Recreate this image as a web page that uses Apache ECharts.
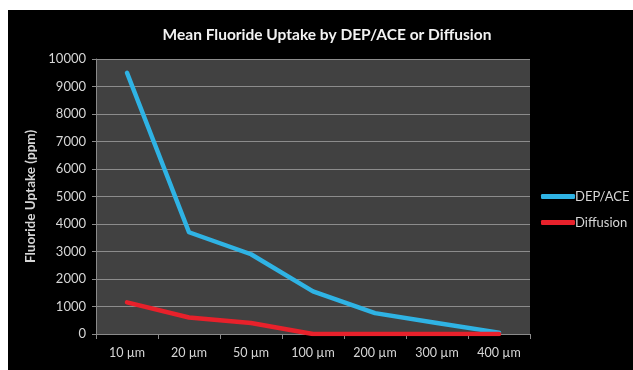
<!DOCTYPE html>
<html>
<head>
<meta charset="utf-8">
<script src="https://cdn.jsdelivr.net/npm/echarts@6/dist/echarts.min.js"></script>
<style>
    html, body { margin: 0; padding: 0; background: #fff; }
    #panel { position: absolute; left: 8px; top: 10px; width: 625px; height: 360px; background: #000; }
    #chart { position: absolute; left: 0; top: 0; width: 633px; height: 370px; }
</style>
</head>
<body>
<div id="panel"></div>
<div id="chart"></div>
<script>
var categories = ['10 µm', '20 µm', '50 µm', '100 µm', '200 µm', '300 µm', '400 µm']
var depAce = [9500, 3700, 2900, 1550, 760, 400, 50]
var diffusion = [1150, 600, 400, 0, 0, 0, 0]
var yTicks = { min: 0, max: 10000, interval: 1000 }

var font = 'Lato, "Open Sans", sans-serif'
var labelColor = '#d6d6d6'

var chart = echarts.init(document.getElementById('chart'))
chart.setOption({
    backgroundColor: 'transparent',
    animation: false,
    title: {
        text: 'Mean Fluoride Uptake by DEP/ACE or Diffusion',
        left: 322,
        textAlign: 'center',
        top: 22,
        textStyle: { color: '#f2f2f2', fontSize: 15.5, fontWeight: 'bold', fontFamily: font }
    },
    legend: {
        orient: 'vertical',
        left: 536,
        top: 185,
        itemWidth: 34,
        itemHeight: 5,
        itemGap: 13,
        icon: 'roundRect',
        textStyle: { color: labelColor, fontSize: 13, fontFamily: font, padding: [0, 0, 0, -5] },
        data: ['DEP/ACE', 'Diffusion']
    },
    grid: {
        left: 96, top: 59, right: 103, bottom: 36,
        show: true,
        backgroundColor: '#414141',
        borderWidth: 0
    },
    xAxis: {
        type: 'category',
        data: categories,
        boundaryGap: true,
        axisLine: { lineStyle: { color: '#8a8a8a', width: 1 } },
        axisTick: { show: true, length: 5, lineStyle: { color: '#8a8a8a' } },
        axisLabel: { color: labelColor, fontSize: 12.5, fontFamily: font, margin: 12 }
    },
    yAxis: {
        type: 'value',
        min: yTicks.min,
        max: yTicks.max,
        interval: yTicks.interval,
        name: 'Fluoride Uptake (ppm)',
        nameLocation: 'middle',
        nameGap: 47,
        nameTextStyle: { color: labelColor, fontSize: 13.5, fontWeight: 'bold', fontFamily: font },
        axisLine: { show: true, lineStyle: { color: '#8a8a8a', width: 1 } },
        axisTick: { show: true, length: 4, lineStyle: { color: '#8a8a8a' } },
        axisLabel: {
            color: labelColor, fontSize: 13, fontFamily: font, margin: 10,
            formatter: function (v) { return String(v) }
        },
        splitLine: { lineStyle: { color: '#8c8c8c', width: 1 } }
    },
    series: [{
        name: 'DEP/ACE',
        type: 'line',
        data: depAce,
        showSymbol: false,
        symbol: 'none',
        color: '#2fb3e4',
        lineStyle: { width: 4.5, color: '#2fb3e4', cap: 'round', join: 'round' }
    }, {
        name: 'Diffusion',
        type: 'line',
        data: diffusion,
        showSymbol: false,
        symbol: 'none',
        color: '#e8212b',
        lineStyle: { width: 4.5, color: '#e8212b', cap: 'round', join: 'round' }
    }]
})
</script>
</body>
</html>
